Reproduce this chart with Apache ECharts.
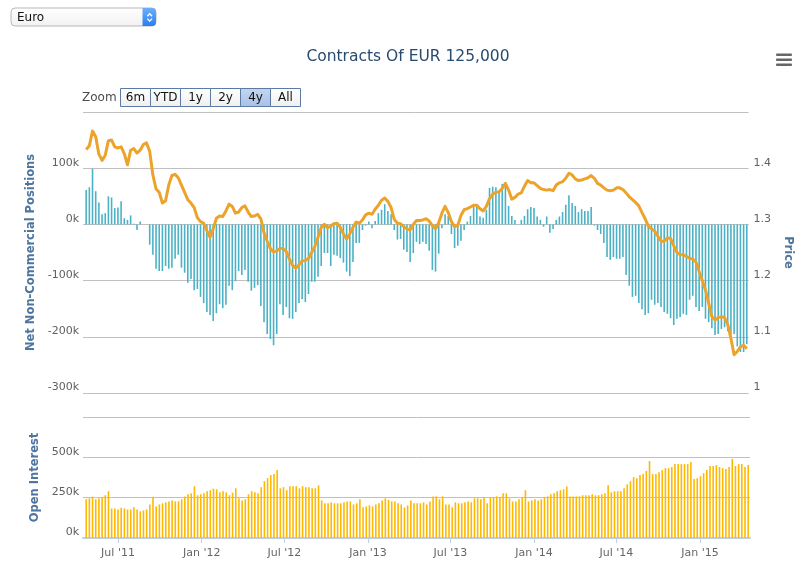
<!DOCTYPE html>
<html><head><meta charset="utf-8">
<script src="https://cdn.jsdelivr.net/npm/echarts@6/dist/echarts.min.js"></script>
<style>html,body{margin:0;padding:0;background:#fff}#c{width:802px;height:566px}</style>
</head><body><div id="c"></div>
<script>
// weekly reports, first report date (UTC)
const firstReport = Date.UTC(2011, 3, 22);
const WEEK = 7 * 86400000;

// Net non-commercial positions (thousands of contracts)
const netPositions = [
  61,66,99,59,39,18,20,50,48,29,30,41,11,8,16,1,-10,5,0,0,-36,-54,-79,-83,-83,-74,-79,-77,-61,-54,-77,-86,-104,-97,-117,-115,-129,-140,-156,-161,-172,-158,-142,-149,-143,-109,-117,-101,-83,-90,-81,-102,-118,-113,-108,
  -145,-174,-195,-204,-215,-195,-142,-161,-147,-167,-168,-156,-140,-133,-138,-124,-102,-102,-93,-74,-51,-51,-74,-54,-56,-60,-68,-84,-92,-67,-33,-33,-10,-2,5,-7,6,20,26,36,24,18,-10,-27,-26,-45,-49,-67,-51,-31,-35,-31,-35,
  -47,-81,-84,-52,-7,18,15,-17,-42,-38,-29,-10,5,15,33,33,14,12,26,65,67,66,57,72,69,33,15,8,0,8,15,27,31,29,14,8,-4,14,-15,-8,8,14,22,35,52,38,33,22,27,24,24,31,-2,-10,
  -17,-33,-58,-63,-58,-61,-61,-58,-90,-109,-129,-127,-140,-151,-161,-158,-134,-143,-140,-147,-156,-159,-167,-179,-168,-165,-159,-161,-134,-127,-147,-154,-147,-168,-174,-185,-197,-195,-186,-183,-190,-197,-195,-217,-227,-227,-213
];

// EUR/USD price
const price = [
  1.433,1.440,1.466,1.456,1.425,1.414,1.423,1.449,1.450,1.438,1.436,1.438,1.426,1.406,1.432,1.435,1.427,1.432,1.442,1.445,1.430,1.388,1.363,1.357,1.338,1.342,1.370,1.387,1.389,1.383,1.370,1.357,1.344,1.338,1.330,1.312,1.305,1.302,1.289,1.277,1.292,1.311,1.315,1.314,1.324,1.336,1.332,1.320,1.322,1.330,1.333,1.322,1.314,1.315,1.318,
  1.310,1.285,1.270,1.257,1.251,1.253,1.257,1.257,1.252,1.238,1.227,1.222,1.228,1.235,1.236,1.239,1.250,1.261,1.277,1.294,1.300,1.294,1.297,1.301,1.302,1.295,1.283,1.274,1.283,1.295,1.304,1.302,1.308,1.317,1.320,1.318,1.327,1.334,1.343,1.347,1.341,1.330,1.309,1.302,1.301,1.296,1.292,1.290,1.300,1.307,1.307,1.308,1.310,
  1.306,1.298,1.292,1.303,1.320,1.332,1.321,1.305,1.296,1.298,1.316,1.326,1.328,1.331,1.334,1.334,1.328,1.324,1.332,1.346,1.354,1.357,1.358,1.364,1.373,1.361,1.345,1.348,1.354,1.356,1.368,1.378,1.374,1.374,1.369,1.364,1.362,1.361,1.362,1.360,1.370,1.374,1.376,1.382,1.391,1.388,1.381,1.378,1.379,1.381,1.383,1.387,1.382,1.373,
  1.370,1.365,1.361,1.360,1.361,1.365,1.365,1.362,1.356,1.349,1.344,1.339,1.333,1.321,1.310,1.297,1.292,1.288,1.279,1.270,1.270,1.276,1.275,1.262,1.250,1.246,1.246,1.243,1.240,1.238,1.233,1.216,1.200,1.183,1.160,1.136,1.130,1.134,1.136,1.134,1.122,1.097,1.068,1.074,1.082,1.085,1.079
];

// Open interest (thousands of contracts)
const openInterest = [
  240,246,256,240,246,250,265,290,183,183,177,187,183,177,177,190,177,165,171,177,208,256,196,208,215,221,227,233,227,227,240,258,271,277,321,265,271,277,290,296,306,302,283,290,283,265,281,308,246,233,240,271,290,283,277,315,352,371,390,396,421,308,315,296,321,321,321,308,321,315,315,308,308,327,233,215,215,221,215,215,215,221,227,227,208,215,240,190,196,202,196,208,215,233,246,235,227,227,215,
  208,190,202,233,215,215,215,221,208,227,258,258,240,258,208,208,190,221,215,215,221,227,221,246,246,240,252,215,252,252,258,252,277,277,246,227,227,240,252,296,227,233,240,233,240,252,258,271,277,290,296,302,319,258,258,258,258,265,265,265,271,265,265,271,277,327,283,290,290,290,308,333,352,377,371,390,396,415,477,396,396,408,421,433,433,440,458,458,458,458,458,471,365,371,383,402,421,446,446,452,440,433,427,440,490,446,458,458,440,452
];

const tickDates = ['2011-07-01','2012-01-01','2012-07-01','2013-01-01','2013-07-01','2014-01-01','2014-07-01','2015-01-01'];
const zoomButtons = ['6m','YTD','1y','2y','4y','All'];
const selectedZoom = '4y';
const dropdownLabel = 'Euro';
const titleText = 'Contracts Of EUR 125,000';

const dates = netPositions.map((_, i) => firstReport + i * WEEK);
const tickValues = tickDates.map(s => Date.parse(s + 'T00:00:00Z'));
const xMin = Date.UTC(2011, 3, 15), xMax = Date.UTC(2015, 3, 21);
const MONTHS = ['Jan','Feb','Mar','Apr','May','Jun','Jul','Aug','Sep','Oct','Nov','Dec'];
const FONT = 'DejaVu Sans';

const chart = echarts.init(document.getElementById('c'), null, {renderer: 'canvas'});

const btnGraphics = [];
zoomButtons.forEach((b, i) => {
  const sel = b === selectedZoom;
  btnGraphics.push({
    type: 'rect', x: 120.5 + 30 * i, y: 88.5,
    shape: {width: 30, height: 18},
    style: {
      fill: sel ? {type:'linear',x:0,y:0,x2:0,y2:1,colorStops:[{offset:0,color:'#c5d6ef'},{offset:1,color:'#a9c0e6'}]}
                : {type:'linear',x:0,y:0,x2:0,y2:1,colorStops:[{offset:0,color:'#ffffff'},{offset:1,color:'#efefef'}]},
      stroke: '#5b7ba6', lineWidth: 1
    }
  });
  btnGraphics.push({
    type: 'text', x: 135.5 + 30 * i, y: 98,
    style: {text: b, font: '12px "' + FONT + '"', fill: '#111', align: 'center', verticalAlign: 'middle'}
  });
});

const option = {
  animation: false,
  textStyle: {fontFamily: FONT},
  grid: [
    {left: 83, right: 52, top: 112, height: 281},
    {left: 83, right: 52, top: 417, height: 121}
  ],
  xAxis: [
    {type: 'value', gridIndex: 0, min: xMin, max: xMax, show: false, splitLine: {show: false}},
    {type: 'value', gridIndex: 1, min: xMin, max: xMax, offset: 2,
     axisLine: {lineStyle: {color: '#C0D0E0', width: 2}},
     axisTick: {show: true, customValues: tickValues, length: 5, lineStyle: {color: '#C0D0E0'}},
     axisLabel: {customValues: tickValues, color: '#666', fontSize: 11, margin: 8,
       formatter: v => { const d = new Date(v); return MONTHS[d.getUTCMonth()] + " '" + String(d.getUTCFullYear()).slice(2); }},
     splitLine: {show: false}}
  ],
  yAxis: [
    {type: 'value', gridIndex: 0, position: 'left', min: -300, max: 200, interval: 100,
     axisLine: {show: false}, axisTick: {show: false},
     axisLabel: {formatter: '{value}k', color: '#606060', fontSize: 11, margin: 4, verticalAlign: 'bottom', showMaxLabel: false},
     splitLine: {lineStyle: {color: '#C0C0C0'}},
     name: 'Net Non-Commercial Positions', nameLocation: 'middle', nameGap: 45,
     nameTextStyle: {color: '#4d759e', fontWeight: 'bold', fontSize: 11.5}},
    {type: 'value', gridIndex: 0, position: 'right', min: 1, max: 1.5, interval: 0.1,
     axisLine: {show: false}, axisTick: {show: false}, splitLine: {show: false},
     axisLabel: {color: '#606060', fontSize: 11, margin: 5, verticalAlign: 'bottom', showMaxLabel: false},
     name: 'Price', nameLocation: 'middle', nameGap: 28, nameRotate: -90,
     nameTextStyle: {color: '#4d759e', fontWeight: 'bold', fontSize: 11.5}},
    {type: 'value', gridIndex: 1, position: 'left', min: 0, max: 750, interval: 250,
     axisLine: {show: false}, axisTick: {show: false},
     axisLabel: {formatter: '{value}k', color: '#606060', fontSize: 11, margin: 4, verticalAlign: 'bottom', showMaxLabel: false},
     splitLine: {lineStyle: {color: '#C0C0C0'}},
     name: 'Open Interest', nameLocation: 'middle', nameGap: 40,
     nameTextStyle: {color: '#4d759e', fontWeight: 'bold', fontSize: 11.5}}
  ],
  series: [
    {name: 'Net Positions', type: 'bar', xAxisIndex: 0, yAxisIndex: 0, barWidth: 1.6,
     itemStyle: {color: '#4bb2c5'}, data: dates.map((d, i) => [d, netPositions[i]])},
    {name: 'Price', type: 'line', xAxisIndex: 0, yAxisIndex: 1, showSymbol: false, z: 5,
     lineStyle: {color: '#EDA32A', width: 3, join: 'round'}, itemStyle: {color: '#EDA32A'},
     data: dates.map((d, i) => [d, price[i]])},
    {name: 'Open Interest', type: 'bar', xAxisIndex: 1, yAxisIndex: 2, barWidth: 1.6,
     itemStyle: {color: '#FFB800'}, data: dates.map((d, i) => [d, openInterest[i]])}
  ],
  graphic: [
    {type: 'text', x: 408, y: 57, style: {text: titleText, font: '15.5px "' + FONT + '"', fill: '#274b6d', align: 'center', verticalAlign: 'middle'}},
    {type: 'rect', x: 11, y: 8, shape: {width: 145, height: 18, r: 4},
     style: {fill: {type:'linear',x:0,y:0,x2:0,y2:1,colorStops:[{offset:0,color:'#ffffff'},{offset:1,color:'#f1f1f1'}]}, stroke: '#b8b8b8', lineWidth: 1}},
    {type: 'rect', x: 142.5, y: 8, shape: {width: 13.5, height: 18, r: [0,4,4,0]},
     style: {fill: {type:'linear',x:0,y:0,x2:0,y2:1,colorStops:[{offset:0,color:'#6cb0fb'},{offset:1,color:'#2a7ef0'}]}}},
    {type: 'polyline', shape: {points: [[147.3,16.3],[149.7,13.8],[152.1,16.3]]}, style: {stroke: '#fff', lineWidth: 1.3, fill: null}},
    {type: 'polyline', shape: {points: [[147.3,18.6],[149.7,21.1],[152.1,18.6]]}, style: {stroke: '#fff', lineWidth: 1.3, fill: null}},
    {type: 'text', x: 17, y: 17.5, style: {text: dropdownLabel, font: '12px "' + FONT + '"', fill: '#111', verticalAlign: 'middle'}},
    {type: 'rect', x: 776, y: 53.5, shape: {width: 16, height: 2.5, r: 1}, style: {fill: '#666'}},
    {type: 'rect', x: 776, y: 58.5, shape: {width: 16, height: 2.5, r: 1}, style: {fill: '#666'}},
    {type: 'rect', x: 776, y: 63.5, shape: {width: 16, height: 2.5, r: 1}, style: {fill: '#666'}},
    {type: 'text', x: 82, y: 98, style: {text: 'Zoom', font: '12px "' + FONT + '"', fill: '#4d4d4d', verticalAlign: 'middle'}},
    ...btnGraphics
  ]
};
chart.setOption(option);
</script>
</body></html>
